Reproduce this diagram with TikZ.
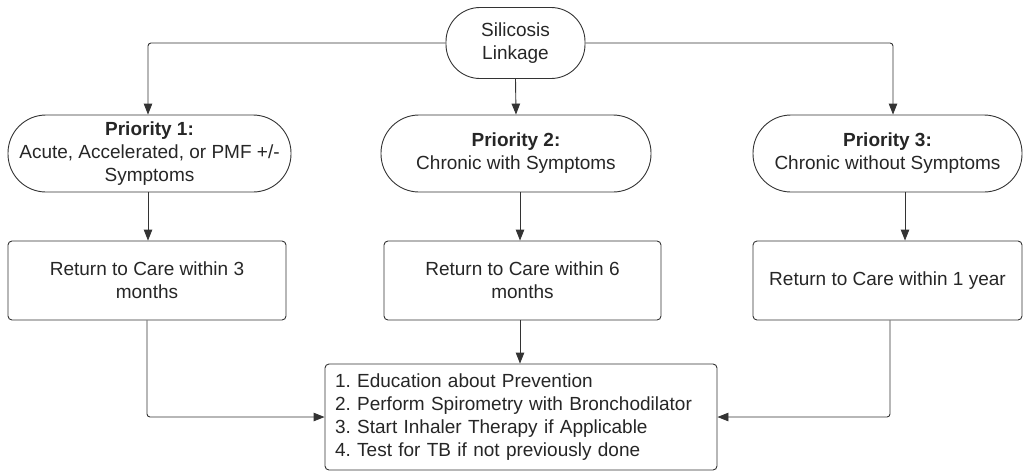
\documentclass[tikz,border=0pt]{standalone}
\usepackage{fontspec}
\setmainfont{Liberation Sans}
\usetikzlibrary{arrows.meta}
\frenchspacing
\begin{document}
\begin{tikzpicture}[x=1pt,y=-1pt,
 every node/.style={font=\fontsize{19}{23}\selectfont, text=black!85},
 term/.style={draw=black!80, line width=0.9pt, align=center, inner sep=0pt},
 box/.style={draw=black!80, line width=0.9pt, rounded corners=4pt, align=center, inner sep=0pt},
 conn/.style={draw=black!80, line width=0.9pt, rounded corners=3pt, -{Triangle[length=11pt,width=8.5pt]}},
]
\useasboundingbox (0,0) rectangle (1024,475);
\node[term, rounded corners=34pt, minimum width=139pt, minimum height=71pt] (sil) at (515.5,43) {Silicosis\\Linkage};
\node[term, rounded corners=38pt, minimum width=283pt, minimum height=77pt] (p1) at (149.5,153.5) {\textbf{Priority 1:}\\Acute, Accelerated, or PMF +/-\\Symptoms};
\node[term, rounded corners=38pt, minimum width=270pt, minimum height=77pt] (p2) at (516,153.5) {\textbf{Priority 2:}\\Chronic with Symptoms};
\node[term, rounded corners=38pt, minimum width=269pt, minimum height=77pt] (p3) at (887.5,153.5) {\textbf{Priority 3:}\\Chronic without Symptoms};
\node[box, minimum width=278pt, minimum height=79pt] (r1) at (147,280.5) {Return to Care within 3\\months};
\node[box, minimum width=277pt, minimum height=79pt] (r2) at (522.5,280.5) {Return to Care within 6\\months};
\node[box, minimum width=269pt, minimum height=79pt] (r3) at (887.5,280.5) {Return to Care within 1 year};
\node[box, align=left, text width=372pt, inner xsep=10pt, minimum height=106pt] (fin) at (521,417) {1. Education about Prevention\\2. Perform Spirometry with Bronchodilator\\3. Start Inhaler Therapy if Applicable\\4. Test for TB if not previously done};
\draw[conn] (sil.west) -| ([xshift=-1.5pt]p1.north);
\draw[conn] (sil.south) -- (p2.north);
\draw[conn] (sil.east) -| ([xshift=5.5pt]p3.north);
\draw[conn] ([xshift=-1.5pt]p1.south) -- ([xshift=-1.5pt]p1.south |- r1.north);
\draw[conn] ([xshift=4pt]p2.south) -- ([xshift=4pt]p2.south |- r2.north);
\draw[conn] ([xshift=17.5pt]p3.south) -- ([xshift=17.5pt]p3.south |- r3.north);
\draw[conn] (r1.south) |- (fin.west);
\draw[conn] ([xshift=-2.5pt]r2.south) -- ([xshift=-2.5pt]r2.south |- fin.north);
\draw[conn] ([xshift=2.5pt]r3.south) |- (fin.east);
\end{tikzpicture}
\end{document}
